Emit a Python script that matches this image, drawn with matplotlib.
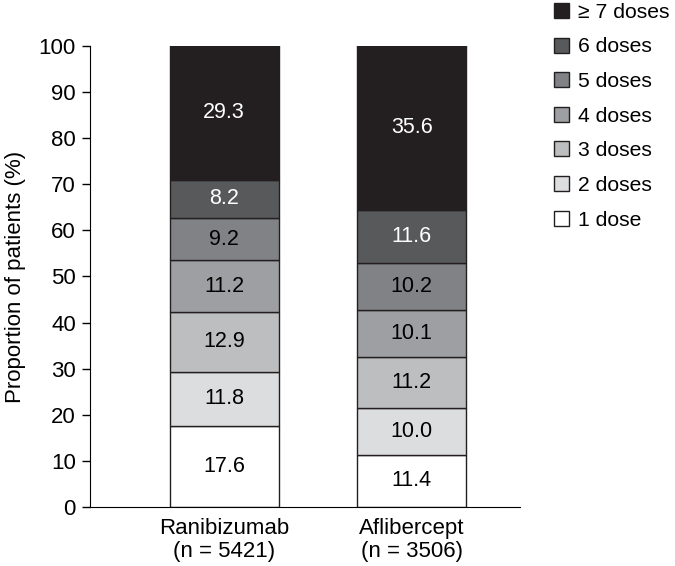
import matplotlib
matplotlib.use("Agg")
import matplotlib.pyplot as plt
from matplotlib.patches import Patch

plt.rcParams["font.family"] = ["Liberation Sans", "DejaVu Sans"]

# data
groups = ["Ranibizumab\n(n = 5421)", "Aflibercept\n(n = 3506)"]
dose_labels = ["1 dose", "2 doses", "3 doses", "4 doses", "5 doses", "6 doses", "\u2265 7 doses"]
ranibizumab = [17.6, 11.8, 12.9, 11.2, 9.2, 8.2, 29.3]
aflibercept = [11.4, 10.0, 11.2, 10.1, 10.2, 11.6, 35.6]
colors = ["#ffffff", "#dcddde", "#bcbec0", "#9d9fa2", "#808285", "#58595b", "#231f20"]
text_colors = ["black", "black", "black", "black", "black", "white", "white"]

fig = plt.figure(figsize=(6.75, 5.66), dpi=100)
ax = fig.add_axes([0.133, 0.104, 0.637, 0.815])

x = [0, 1]
width = 0.58
bottoms = [0.0, 0.0]
for i in range(len(dose_labels)):
    vals = [ranibizumab[i], aflibercept[i]]
    ax.bar(x, vals, width, bottom=bottoms, color=colors[i], edgecolor="#231f20", linewidth=1.0)
    for j in range(2):
        ax.text(x[j], bottoms[j] + vals[j] / 2, f"{vals[j]:.1f}", ha="center", va="center",
                fontsize=15.5, color=text_colors[i])
    bottoms = [bottoms[0] + vals[0], bottoms[1] + vals[1]]

ax.set_xlim(-0.717, 1.576)
ax.set_ylim(0, 100)
ax.set_yticks(range(0, 101, 10))
ax.set_xticks(x)
ax.set_xticklabels(groups, fontsize=16, linespacing=1.1)
ax.tick_params(axis="x", length=0, pad=8)
ax.tick_params(axis="y", labelsize=16, length=6, width=1, direction="out", pad=4)
ax.set_ylabel("Proportion of patients (%)", fontsize=16, labelpad=9)
ax.spines["top"].set_visible(False)
ax.spines["right"].set_visible(False)

handles = [Patch(facecolor=colors[i], edgecolor="#231f20", label=dose_labels[i])
           for i in range(len(dose_labels) - 1, -1, -1)]
fig.legend(handles=handles, loc="upper left", bbox_to_anchor=(0.808, 1.01), frameon=False,
           fontsize=15.2, handlelength=0.72, handleheight=0.72, labelspacing=0.74, handletextpad=0.42,
           borderaxespad=0)

fig.savefig("out.png", dpi=100)
